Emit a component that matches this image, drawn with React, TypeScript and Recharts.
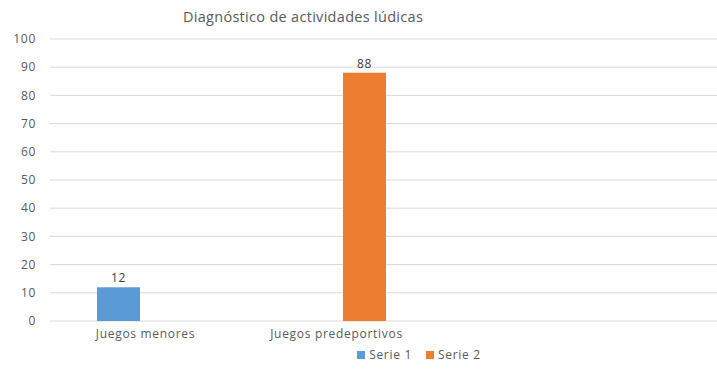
import { BarChart, Bar, XAxis, YAxis, CartesianGrid, Legend, LabelList } from 'recharts'

const categories = ['Juegos menores', 'Juegos predeportivos', '', '']
const serie1 = [12, null, null, null]
const serie2 = [null, 88, null, null]
const yTicks = [0, 10, 20, 30, 40, 50, 60, 70, 80, 90, 100]

const BLUE = '#5B9BD5'
const ORANGE = '#ED7D31'
const TEXT = '#595959'
const FONT = '"Open Sans", sans-serif'

const data = categories.map((name, i) => ({
  name,
  s1: serie1[i],
  s2: serie2[i],
}))

const legendItems = [
  { label: 'Serie 1', color: BLUE },
  { label: 'Serie 2', color: ORANGE },
]

// the reference text is a bit stretched, so widen it with letter spacing
const axisText = { fill: TEXT, fontSize: 12, fontFamily: FONT, letterSpacing: 0.7, style: { letterSpacing: '0.7px' } }

function LegendContent() {
  return (
    <div
      style={{
        display: 'flex',
        justifyContent: 'center',
        gap: 14,
        fontFamily: FONT,
        fontSize: 12,
        letterSpacing: '0.7px',
        color: TEXT,
      }}
    >
      {legendItems.map(item => (
        <div key={item.label} style={{ display: 'flex', alignItems: 'center' }}>
          <span style={{ width: 8, height: 8, background: item.color, marginRight: 4, display: 'inline-block' }} />
          <span>{item.label}</span>
        </div>
      ))}
    </div>
  )
}

export default function App() {
  return (
    <div style={{ position: 'absolute', left: 0, top: 0, width: 717, height: 387, overflow: 'hidden', background: '#fff' }}>
      <div
        style={{
          position: 'absolute',
          top: 7,
          left: 303,
          transform: 'translateX(-50%)',
          whiteSpace: 'nowrap',
          fontFamily: FONT,
          fontSize: 14.5,
          letterSpacing: '0.3px',
          color: TEXT,
        }}
      >
        Diagnóstico de actividades lúdicas
      </div>
      <BarChart
        width={820}
        height={387}
        data={data}
        margin={{ top: 39, right: 6, bottom: 6, left: 0 }}
        barSize={43}
        barGap={12}
      >
        <CartesianGrid vertical={false} stroke="#D9D9D9" />
        <XAxis dataKey="name" axisLine={false} tickLine={false} height={36} tick={axisText} interval={0} />
        <YAxis
          width={50}
          domain={[0, 100]}
          ticks={yTicks}
          axisLine={false}
          tickLine={false}
          tickMargin={8}
          tick={axisText}
        />
        <Legend
          verticalAlign="bottom"
          height={24}
          content={<LegendContent />}
          wrapperStyle={{ top: 346, bottom: 'auto', left: 0, width: 838 }}
        />
        <Bar dataKey="s1" name="Serie 1" fill={BLUE} isAnimationActive={false}>
          <LabelList dataKey="s1" position="top" fill="#404040" fontSize={12} fontFamily={FONT} style={{ letterSpacing: '0.7px' }} />
        </Bar>
        <Bar dataKey="s2" name="Serie 2" fill={ORANGE} isAnimationActive={false}>
          <LabelList dataKey="s2" position="top" fill="#404040" fontSize={12} fontFamily={FONT} style={{ letterSpacing: '0.7px' }} />
        </Bar>
      </BarChart>
    </div>
  )
}
